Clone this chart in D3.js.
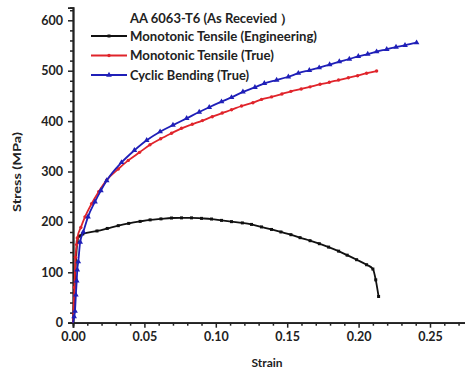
<!DOCTYPE html>
<html>
<head>
<meta charset="utf-8">
<script src="https://cdn.jsdelivr.net/npm/d3@7"></script>
<style>
  body { margin: 0; background: #fff; }
  text { font-family: Lato, "Open Sans", sans-serif; font-weight: bold; }
</style>
</head>
<body>
<figure id="chart" style="margin:0"></figure>
<script>
// monotonic tensile, engineering
const engStrain = [0, 0.0015, 0.003, 0.0045, 0.0068, 0.0168, 0.024, 0.0317, 0.039, 0.047, 0.054, 0.0616, 0.069, 0.076, 0.083, 0.090, 0.097, 0.104, 0.111, 0.1186, 0.125, 0.132, 0.139, 0.1456, 0.1526, 0.159, 0.166, 0.1725, 0.179, 0.186, 0.192, 0.1986, 0.2056, 0.21, 0.212, 0.214];
const engStress = [0, 90, 160, 172, 176, 182, 187, 192.5, 197, 201, 204, 206, 207.7, 208, 208, 207, 205.7, 203, 200.5, 198, 195, 190, 185, 180, 174.6, 168.7, 162.7, 156.7, 150, 142, 134, 125, 115, 106.5, 85, 52];

// monotonic tensile, true
const trueStrain = [0, 0.001, 0.0018, 0.0025, 0.003, 0.0055, 0.0084, 0.013, 0.018, 0.0236, 0.0317, 0.0387, 0.0466, 0.0539, 0.0614, 0.069, 0.076, 0.0835, 0.0906, 0.0975, 0.1045, 0.111, 0.118, 0.126, 0.132, 0.139, 0.1463, 0.1526, 0.1598, 0.166, 0.173, 0.1795, 0.186, 0.1928, 0.1993, 0.2056, 0.2126];
const trueStress = [0, 70, 130, 155, 168, 189, 210, 236, 260, 283, 305, 322, 338, 353, 365, 376, 385.7, 393.7, 401, 408.7, 416, 422.5, 430, 436.5, 443, 448, 453.8, 459, 463.7, 468, 473, 477, 481.5, 486, 490, 495, 499.4];

// cyclic bending, true
const cycStrain = [0, 0.0008, 0.0014, 0.002, 0.0026, 0.003, 0.0037, 0.005, 0.0072, 0.0105, 0.0154, 0.0195, 0.0236, 0.034, 0.043, 0.0516, 0.061, 0.070, 0.0796, 0.0884, 0.0954, 0.104, 0.111, 0.119, 0.1274, 0.134, 0.1426, 0.1508, 0.1578, 0.1655, 0.1724, 0.1797, 0.1865, 0.1935, 0.1998, 0.2064, 0.2126, 0.2197, 0.2262, 0.2325, 0.2406];
const cycStress = [0, 12, 23, 55, 83, 105, 121, 160, 180, 210, 240, 262, 282, 318, 342, 362, 379, 392, 405.5, 418, 427.5, 438.5, 447, 458, 467, 475, 481.5, 488, 495, 500.8, 506, 512, 518, 523.2, 528.6, 533, 537.7, 542.5, 547, 550.4, 555.5];

const xTicks = [0, 0.05, 0.10, 0.15, 0.20, 0.25];
const yTicks = [0, 100, 200, 300, 400, 500, 600];
const legendTitle = "AA 6063-T6 (As Recevied \uFF09";
const seriesNames = ["Monotonic Tensile (Engineering)", "Monotonic Tensile (True)", "Cyclic Bending (True)"];

const W = 465, H = 370;
const plotLeft = 73, plotRight = 465.7, plotTop = 7.7, plotBottom = 322.7;

const svg = d3.select("figure#chart")
  .append("svg")
  .attr("width", W)
  .attr("height", H);

const x = d3.scaleLinear().domain([0, 0.275]).range([plotLeft, plotRight]);
const y = d3.scaleLinear().domain([0, 625]).range([plotBottom, plotTop]);

// minor ticks first, majors on top
const xMinor = d3.range(0, 0.2751, 0.01).filter(v => Math.abs(v * 20 - Math.round(v * 20)) > 1e-6);
const yMinor = d3.range(0, 621, 20).filter(v => v % 100 !== 0);

const gx = svg.append("g").attr("transform", "translate(0," + plotBottom + ")");
gx.call(d3.axisBottom(x).tickValues(xMinor).tickSize(3).tickFormat(""));
gx.append("g").call(d3.axisBottom(x).tickValues(xTicks).tickSize(5).tickPadding(4).tickFormat(d3.format(".2f")));
gx.selectAll("path, line").attr("stroke", "#222").attr("stroke-width", 1.5);
gx.selectAll("text").attr("font-size", 12.5).attr("fill", "#222");

const gy = svg.append("g").attr("transform", "translate(" + plotLeft + ",0)");
gy.call(d3.axisLeft(y).tickValues(yMinor).tickSize(3).tickFormat(""));
gy.append("g").call(d3.axisLeft(y).tickValues(yTicks).tickSize(5).tickPadding(5));
gy.selectAll("path, line").attr("stroke", "#222").attr("stroke-width", 1.5);
gy.selectAll("text").attr("font-size", 12.5).attr("fill", "#222");
svg.selectAll(".domain").attr("stroke-width", 1.8);

// axis titles
svg.append("text")
  .attr("transform", "translate(21,172)rotate(-90)")
  .attr("text-anchor", "middle")
  .attr("font-size", 12)
  .attr("fill", "#222")
  .attr("textLength", 80)
  .attr("lengthAdjust", "spacingAndGlyphs")
  .text("Stress (MPa)");

svg.append("text")
  .attr("x", 267)
  .attr("y", 367)
  .attr("text-anchor", "middle")
  .attr("font-size", 12)
  .attr("fill", "#222")
  .text("Strain");

const line = d3.line().curve(d3.curveMonotoneX);

function drawSeries(xs, ys, color, shape, size) {
  const pts = xs.map((v, i) => [x(v), y(ys[i])]);
  svg.append("path")
    .attr("d", line(pts))
    .attr("fill", "none")
    .attr("stroke", color)
    .attr("stroke-width", 1.8);
  svg.append("g").selectAll("path")
    .data(pts.slice(1))
    .enter()
    .append("path")
    .attr("transform", d => "translate(" + d[0] + "," + d[1] + ")")
    .attr("d", d3.symbol().type(shape).size(size))
    .attr("fill", color);
}

drawSeries(engStrain, engStress, "#111", d3.symbolSquare, 9);
drawSeries(trueStrain, trueStress, "#e0242b", d3.symbolCircle, 9);
drawSeries(cycStrain, cycStress, "#1f1fb8", d3.symbolTriangle, 14);

// legend
const colors = ["#111", "#e0242b", "#1f1fb8"];
const shapes = [d3.symbolSquare, d3.symbolCircle, d3.symbolTriangle];
const sizes = [9, 9, 14];
const textWidths = [187, 144, 119]; // reference text is a bit wider than Lato

svg.append("text")
  .attr("x", 130)
  .attr("y", 23)
  .attr("font-size", 13)
  .attr("fill", "#222")
  .text(legendTitle);

seriesNames.forEach((name, i) => {
  const ly = 36 + i * 19.5;
  svg.append("line")
    .attr("x1", 91).attr("x2", 127)
    .attr("y1", ly).attr("y2", ly)
    .attr("stroke", colors[i])
    .attr("stroke-width", 1.8);
  svg.append("path")
    .attr("transform", "translate(109," + ly + ")")
    .attr("d", d3.symbol().type(shapes[i]).size(sizes[i]))
    .attr("fill", colors[i]);
  svg.append("text")
    .attr("x", 130)
    .attr("y", ly + 4.5)
    .attr("font-size", 12.5)
    .attr("fill", "#222")
    .attr("textLength", textWidths[i])
    .attr("lengthAdjust", "spacingAndGlyphs")
    .text(name);
});
</script>
</body>
</html>
